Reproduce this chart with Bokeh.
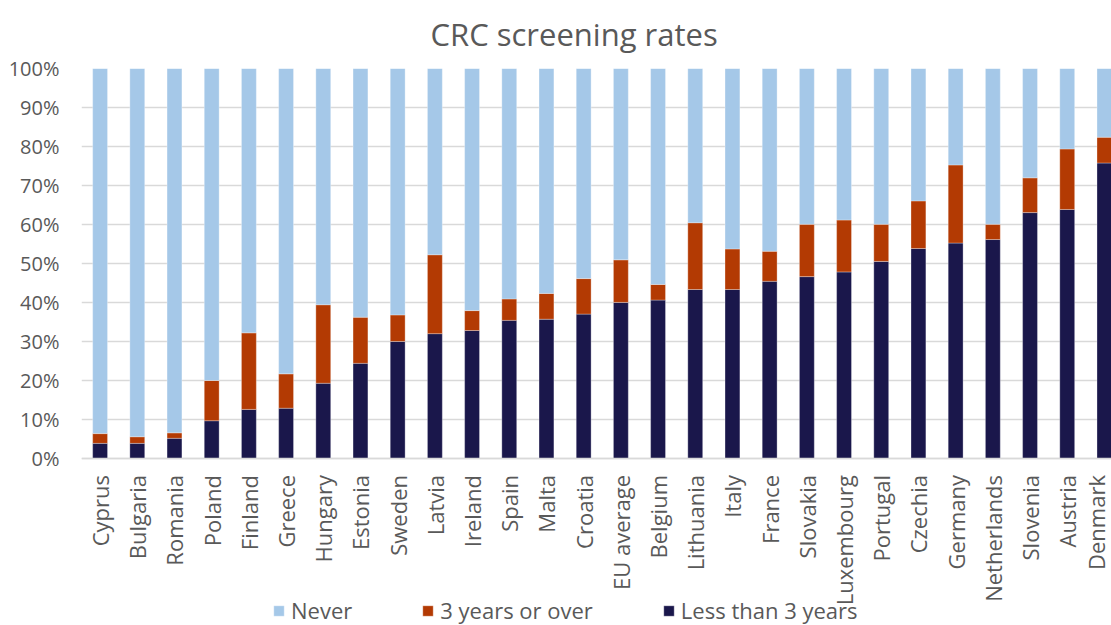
import math
from bokeh.plotting import figure
from bokeh.models import (ColumnDataSource, Range1d, FixedTicker, PrintfTickFormatter,
                          Legend, LegendItem)
from bokeh.embed import file_html
from bokeh.resources import INLINE

countries = ["Cyprus", "Bulgaria", "Romania", "Poland", "Finland", "Greece", "Hungary",
             "Estonia", "Sweden", "Latvia", "Ireland", "Spain", "Malta", "Croatia",
             "EU average", "Belgium", "Lithuania", "Italy", "France", "Slovakia",
             "Luxembourg", "Portugal", "Czechia", "Germany", "Netherlands", "Slovenia",
             "Austria", "Denmark"]
less_than_3 = [4.0, 4.0, 5.3, 9.8, 12.7, 13.0, 19.4, 24.5, 30.1, 32.1, 32.9, 35.5, 35.8, 37.1,
               40.1, 40.7, 43.4, 43.4, 45.5, 46.7, 47.9, 50.6, 53.9, 55.3, 56.2, 63.1, 63.9, 75.8]
three_or_over = [2.5, 1.7, 1.4, 10.3, 19.6, 8.8, 20.1, 11.8, 6.8, 20.2, 5.1, 5.5, 6.6, 9.1,
                 10.9, 4.0, 17.1, 10.4, 7.7, 13.4, 13.3, 9.5, 12.2, 20.0, 3.9, 8.9, 15.5, 6.6]
never = [93.5, 94.3, 93.3, 79.9, 67.7, 78.2, 60.5, 63.7, 63.1, 47.7, 62.0, 59.0, 57.6, 53.8,
         49.0, 55.3, 39.5, 46.2, 46.8, 39.9, 38.8, 39.9, 33.9, 24.7, 39.9, 28.0, 20.6, 17.6]
y_ticks = [0, 10, 20, 30, 40, 50, 60, 70, 80, 90, 100]

FONT = "Open Sans"
GREY = "#595959"

src = ColumnDataSource(dict(x=list(range(len(countries))), less=less_than_3,
                            over=three_or_over, never=never))

# frame runs from the 100% line down to the page bottom; room below 0% holds labels + legend
p = figure(width=1111, height=625, output_backend="svg", toolbar_location=None,
           x_range=Range1d(-0.5, 27.19), y_range=Range1d(-42.64, 100),
           min_border_left=81, min_border_right=0, min_border_top=68, min_border_bottom=0)
p.background_fill_color = "white"
p.border_fill_color = "white"
p.outline_line_color = None

rs = p.vbar_stack(["less", "over", "never"], x="x", width=0.4, source=src,
                  color=["#1A174B", "#B33A03", "#A5C8E8"],
                  line_color="white", line_alpha=0.3, line_width=1)

p.title.text = "CRC screening rates"
p.title.align = "left"
p.title.offset = 349
p.title.vertical_align = "top"
p.title.standoff = 24
p.title.text_font = FONT
p.title.text_font_size = "31px"
p.title.text_font_style = "normal"
p.title.text_color = GREY

p.xgrid.grid_line_color = None
p.ygrid.grid_line_color = "#D9D9D9"
p.ygrid.grid_line_width = 1.5
p.ygrid.ticker = FixedTicker(ticks=y_ticks)

p.yaxis.ticker = FixedTicker(ticks=y_ticks)
p.yaxis.formatter = PrintfTickFormatter(format="%d%%")
p.yaxis.axis_line_color = None
p.yaxis.major_tick_line_color = None
p.yaxis.minor_tick_line_color = None
p.yaxis.major_tick_out = 0
p.yaxis.major_label_standoff = 22
p.yaxis.major_label_text_font = FONT
p.yaxis.major_label_text_font_size = "20px"
p.yaxis.major_label_text_color = GREY

p.xaxis.fixed_location = 0
p.xaxis.ticker = FixedTicker(ticks=list(range(len(countries))))
p.xaxis.major_label_overrides = {i: c for i, c in enumerate(countries)}
p.xaxis.major_label_orientation = math.pi / 2
p.xaxis.axis_line_color = "#D9D9D9"
p.xaxis.axis_line_width = 1.5
p.xaxis.major_tick_line_color = None
p.xaxis.minor_tick_line_color = None
p.xaxis.major_tick_out = 0
p.xaxis.major_label_standoff = 16
p.xaxis.major_label_text_font = FONT
p.xaxis.major_label_text_font_size = "22px"
p.xaxis.major_label_text_color = GREY

legend = Legend(items=[LegendItem(label="Never", renderers=[rs[2]]),
                       LegendItem(label="3 years or over", renderers=[rs[1]]),
                       LegendItem(label="Less than 3 years", renderers=[rs[0]])],
                location=(191, 0), orientation="horizontal",
                glyph_width=13, glyph_height=13, label_standoff=6, spacing=69,
                padding=0, margin=0, label_height=22,
                label_text_font=FONT, label_text_font_size="22px", label_text_color=GREY,
                border_line_color=None, background_fill_alpha=0)
p.add_layout(legend, "center")

open("out.html", "w").write(file_html(p, INLINE))
